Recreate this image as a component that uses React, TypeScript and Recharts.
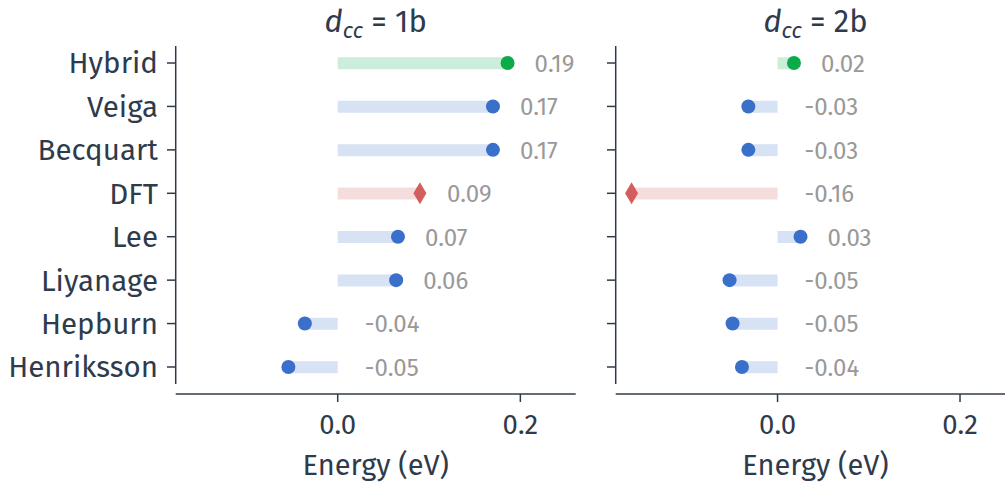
import React from 'react';
import { ComposedChart, Bar, Line, XAxis, YAxis, Cell, LabelList } from 'recharts';

const methods = ['Hybrid', 'Veiga', 'Becquart', 'DFT', 'Lee', 'Liyanage', 'Hepburn', 'Henriksson'];
const kinds = ['hybrid', 'iap', 'iap', 'dft', 'iap', 'iap', 'iap', 'iap'];
const energy1b = [0.186, 0.17, 0.17, 0.09, 0.066, 0.064, -0.036, -0.054];
const energy2b = [0.018, -0.032, -0.032, -0.16, 0.0252, -0.0526, -0.0493, -0.039];
const xTicks = [0, 0.2];
const panelTitles = ['1b', '2b'];

const INK = '#2f3b4b';
const FONT = '"Fira Sans", "Open Sans", "Noto Sans", sans-serif';
const colors: Record<string, { dot: string; bar: string }> = {
  hybrid: { dot: '#0aab48', bar: '#ccedd9' },
  iap: { dot: '#3a70c9', bar: '#d7e2f4' },
  dft: { dot: '#d45e5e', bar: '#f6dddd' },
};

const X_DOMAIN: [number, number] = [-0.1774, 0.2606];

const buildRows = (values: number[]) =>
  methods.map((name, i) => ({ name, value: values[i], kind: kinds[i] }));

const renderMarker = (props: any) => {
  const { cx, cy, index, payload } = props;
  if (cx == null || cy == null) return <g key={`m-${index}`} />;
  const c = colors[payload.kind].dot;
  if (payload.kind === 'dft') {
    return (
      <polygon
        key={`m-${index}`}
        points={`${cx},${cy - 11} ${cx + 6.5},${cy} ${cx},${cy + 11} ${cx - 6.5},${cy}`}
        fill={c}
      />
    );
  }
  return <circle key={`m-${index}`} cx={cx} cy={cy} r={7} fill={c} />;
};

const renderValue = (props: any) => {
  const vb = props.viewBox ?? props;
  const x = Number(vb.x);
  const w = Number(vb.width);
  const y = Number(vb.y);
  const h = Number(vb.height);
  const end = Math.max(x, x + w);
  return (
    <text
      key={`v-${props.index}`}
      x={end + 27}
      y={y + h / 2}
      dy="0.36em"
      fontSize={24}
      fill="#999999"
      fontFamily={FONT}
    >
      {Number(props.value).toFixed(2)}
    </text>
  );
};

interface PanelProps {
  values: number[];
  left: number;
  width: number;
  axisWidth: number;
  marginRight: number;
  showLabels: boolean;
}

const Panel = ({ values, left, width, axisWidth, marginRight, showLabels }: PanelProps) => {
  const data = buildRows(values);
  return (
    <div style={{ position: 'absolute', left, top: 0 }}>
      <ComposedChart
        width={width}
        height={484}
        layout="vertical"
        data={data}
        margin={{ top: 41.3, right: marginRight, bottom: 0, left: 0 }}
      >
        <XAxis
          type="number"
          domain={X_DOMAIN}
          allowDataOverflow
          ticks={xTicks}
          tickFormatter={(v: number) => v.toFixed(1)}
          height={90}
          tickSize={8}
          tickMargin={12}
          stroke={INK}
          strokeWidth={1.5}
          tick={{ fontSize: 27.5, fill: INK, fontFamily: FONT }}
          label={{ value: 'Energy (eV)', position: 'insideBottom', offset: 9, fill: INK, fontSize: 29, fontFamily: FONT }}
        />
        <YAxis
          type="category"
          dataKey="name"
          width={axisWidth}
          axisLine={false}
          tickSize={8.7}
          tickMargin={9}
          padding={{ top: 0, bottom: 5.3 }}
          stroke={INK}
          strokeWidth={1.5}
          interval={0}
          tickFormatter={(v: string) => (showLabels ? v : '')}
          tick={{ fontSize: 29.5, fill: INK, fontFamily: FONT }}
        />
        <Bar dataKey="value" barSize={12} isAnimationActive={false}>
          {data.map((d, i) => (
            <Cell key={`c-${i}`} fill={colors[d.kind].bar} />
          ))}
          <LabelList dataKey="value" content={renderValue} />
        </Bar>
        <Line
          dataKey="value"
          stroke="none"
          dot={renderMarker}
          activeDot={false}
          isAnimationActive={false}
          legendType="none"
        />
      </ComposedChart>
    </div>
  );
};

const Title = ({ x, text }: { x: number; text: string }) => (
  <text x={x} y={32} textAnchor="middle" fontSize={31} fill={INK} fontFamily={FONT}>
    <tspan fontStyle="italic">d</tspan>
    <tspan fontStyle="italic" fontSize={22} dy={6}>cc</tspan>
    <tspan dy={-6}>{' = ' + text}</tspan>
  </text>
);

export default function App() {
  return (
    <div
      style={{
        position: 'absolute',
        left: 0,
        top: 0,
        width: 1005,
        height: 484,
        overflow: 'hidden',
        background: '#ffffff',
        fontFamily: FONT,
      }}
    >
      <Panel values={energy1b} left={0} width={590} axisWidth={175.7} marginRight={14.3} showLabels />
      <Panel values={energy2b} left={595} width={430} axisWidth={20.7} marginRight={9.7} showLabels={false} />
      <svg width={1005} height={484} style={{ position: 'absolute', left: 0, top: 0, pointerEvents: 'none' }}>
        <line x1={175.7} x2={175.7} y1={46} y2={384} stroke={INK} strokeWidth={1.5} />
        <line x1={615.7} x2={615.7} y1={46} y2={384} stroke={INK} strokeWidth={1.5} />
        <Title x={375.7} text={panelTitles[0]} />
        <Title x={815.5} text={panelTitles[1]} />
      </svg>
    </div>
  );
}
